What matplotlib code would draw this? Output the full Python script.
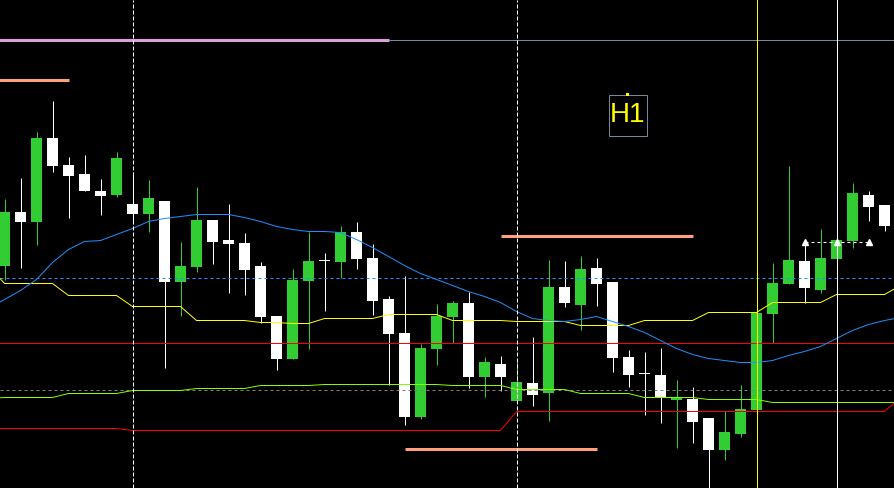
import numpy as np
import matplotlib
matplotlib.use("Agg")
import matplotlib.pyplot as plt
from matplotlib.patches import Rectangle

plt.rcParams['lines.scale_dashes'] = False

# ---------------- data (price units) ----------------
opens  = [223, 277, 267, 351, 324, 315, 298, 294, 285, 275,
          288, 207, 222, 269, 249, 246, 223, 173, 130, 208,
          228, 227, 257, 231, 190, 156, 72, 140, 172, 186,
          112, 125, 88, 106, 96, 202, 184, 221, 207, 132,
          115, 114, 89, 90, 71, 39, 55, 79, 175, 205,
          228, 199, 230, 248, 294, 284]
closes = [277, 267, 351, 323, 313, 298, 293, 331, 275, 291,
          207, 223, 269, 247, 245, 219, 172, 130, 209, 228,
          228, 257, 230, 188, 155, 72, 141, 173, 186, 112,
          127, 112, 107, 94, 202, 186, 220, 205, 131, 114,
          115, 91, 92, 67, 39, 57, 80, 176, 206, 229,
          201, 231, 249, 296, 282, 263]
highs  = [290, 311, 357, 388, 332, 334, 310, 337, 317, 309,
          288, 247, 302, 269, 285, 256, 227, 173, 220, 257,
          236, 263, 267, 245, 193, 213, 145, 185, 188, 197,
          132, 133, 130, 152, 229, 228, 233, 231, 207, 139,
          137, 141, 109, 102, 71, 78, 104, 176, 226, 323,
          248, 260, 249, 306, 298, 284]
lows   = [209, 221, 244, 317, 271, 298, 274, 292, 266, 257,
          121, 173, 217, 225, 196, 194, 166, 119, 130, 140,
          178, 211, 220, 174, 104, 64, 70, 124, 146, 101,
          92, 98, 88, 83, 68, 182, 159, 183, 117, 102,
          74, 66, 41, 46, -15, 29, 52, 79, 146, 205,
          186, 196, 230, 241, 268, 258]

# indicator lines, bar index -1 .. 56
ma_blue = [180, 189, 198, 209, 226, 239, 247, 248, 254, 260, 267,
           270, 272, 274, 274, 274, 271, 267, 262, 259, 257,
           257, 256, 249, 241, 232, 223, 215, 209, 203, 197,
           192, 186, 177, 170, 168, 167, 169, 172, 167, 162,
           156, 148, 140, 134, 130, 128, 126, 126, 128, 133,
           137, 142, 150, 158, 164, 168, 171]
band_yellow = [223, 205, 205, 205, 205, 193, 193, 193, 193, 182, 182,
               182, 182, 168, 168, 168, 168, 166, 166, 165, 165,
               170, 170, 170, 170, 174, 174, 174, 174, 168, 168,
               168, 168, 167, 167, 167, 167, 163, 163, 163, 163,
               168, 168, 168, 168, 176, 176, 176, 176, 186, 186,
               186, 186, 194, 194, 194, 194, 203]
band_lime = [90, 91, 91, 91, 91, 95, 95, 95, 95, 98, 98,
             98, 98, 100, 100, 100, 100, 103, 103, 103, 103,
             104, 104, 104, 104, 104, 104, 104, 104, 103, 103,
             103, 103, 99, 99, 99, 99, 95, 95, 95, 95,
             91, 91, 91, 91, 89, 89, 89, 89, 86, 86,
             86, 86, 86, 86, 86, 86, 86]
stop_red = [60, 60, 60, 60, 60, 60, 60, 60, 60, 58, 58,
            58, 58, 58, 58, 58, 58, 58, 58, 58, 58,
            58, 58, 58, 58, 58, 58, 58, 58, 58, 58,
            58, 58, 77, 77, 77, 77, 77, 77, 77, 77,
            77, 77, 77, 77, 77, 77, 77, 77, 77, 77,
            77, 77, 77, 77, 77, 77, 91]

# horizontal levels
level_red = 146
level_gray = 99
level_blue = 211
level_pink = 449
salmon_levels = [409, 253, 40]
salmon_from = [-1, 31, 25]
salmon_to = [4, 43, 37]
pink_end = 24
arrow_level = 247
arrow_bars = [50, 52, 54]
vdash_bars = [8, 32]
vline_yellow = 47
vline_white = 52
tf_label = "H1"

# ---------------- figure ----------------
W, H = 894, 488
fig = plt.figure(figsize=(W / 100, H / 100), dpi=100, facecolor='black')
ax = fig.add_axes([0, 0, 1, 1], facecolor='black')
ax.set_xlim(-4.5 / 16, (W - 4.5) / 16)
ax.set_ylim(0.5, H + 0.5)
ax.axis('off')

n = len(opens)
x = np.arange(n)
o = np.array(opens); c = np.array(closes)
hi = np.array(highs); lo = np.array(lows)
up = c > o
cols = np.where(up, '#32CD32', '#FFFFFF')

px = 0.72  # one pixel in points

# wicks
ax.vlines(x, lo, hi, colors=cols, linewidth=px, zorder=2)
# bodies
bottom = np.minimum(o, c)
height = np.maximum(np.abs(c - o), 1)
ax.bar(x, height, bottom=bottom, width=11 / 16, color=cols, edgecolor=cols,
       linewidth=0, zorder=3, antialiased=False)

xl = np.arange(-1, -1 + len(ma_blue))
# horizontal levels
ax.axhline(level_red, color='#FF0000', linewidth=px, zorder=4)
ax.axhline(level_gray, color='#808080', linewidth=px, dashes=(3 * px, 3 * px), zorder=4)
ax.axhline(level_blue, color='#1E90FF', linewidth=px, dashes=(3 * px, 3 * px), zorder=4)

# indicator lines
ax.plot(xl, stop_red, color='#FF0000', linewidth=px, zorder=5)
ax.plot(xl, band_lime, color='#7FFF00', linewidth=px, zorder=5)
ax.plot(xl, band_yellow, color='#FFFF00', linewidth=px, zorder=5)
ax.plot(xl, ma_blue, color='#1E90FF', linewidth=px, zorder=5)

# top pink / gray line
ax.plot([-1, pink_end], [level_pink, level_pink], color='#DDA0DD', linewidth=3 * px,
        solid_capstyle='butt', zorder=6)
ax.plot([pink_end, 60], [level_pink, level_pink], color='#778899', linewidth=px, zorder=6)

# salmon segments
for lv, a, b in zip(salmon_levels, salmon_from, salmon_to):
    ax.plot([a, b], [lv, lv], color='#FFA07A', linewidth=3 * px, solid_capstyle='butt', zorder=6)

# vertical lines
for vb in vdash_bars:
    ax.axvline(vb, color='white', linewidth=px, dashes=(4 * px, 2 * px), zorder=6)
ax.axvline(vline_yellow, color='#FFFF00', linewidth=px, zorder=6)
ax.axvline(vline_white, color='white', linewidth=px, zorder=6)

# arrow line
ax.plot([arrow_bars[0], arrow_bars[-1]], [arrow_level, arrow_level], color='white',
        linewidth=px, dashes=(3 * px, 3 * px), zorder=7)
ax.plot(arrow_bars, [arrow_level] * len(arrow_bars), linestyle='none', marker='^',
        markersize=4.5, color='white', zorder=7)

# timeframe label
ax.add_patch(Rectangle((609 / W, 1 - 136 / H), 38 / W, 41 / H, transform=ax.transAxes,
                       fill=False, edgecolor='#778899', linewidth=px, zorder=8))
ax.text(628 / W, 1 - 115 / H, tf_label, transform=ax.transAxes, color='#FFFF00',
        fontsize=20, family='Liberation Sans', ha='center', va='center', zorder=9)
ax.add_patch(Rectangle((626 / W, 1 - 96 / H), 3 / W, 3 / H, transform=ax.transAxes,
                       color='#FFFF00', linewidth=0, zorder=9))

fig.savefig('out.png', dpi=100, facecolor='black')
